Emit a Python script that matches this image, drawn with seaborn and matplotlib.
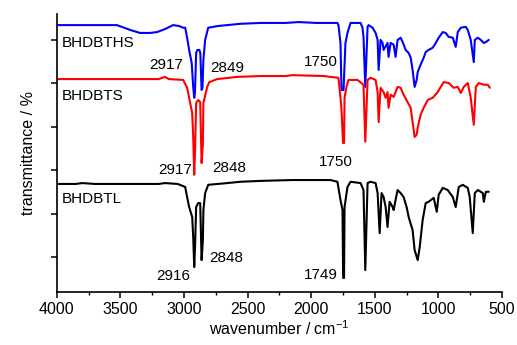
import numpy as np
import pandas as pd
import matplotlib
matplotlib.use("Agg")
import matplotlib.pyplot as plt
from matplotlib.ticker import MultipleLocator
import seaborn as sns

# -----------------------
# spectra (wavenumber / cm-1, stacked transmittance, a.u.)
# -----------------------
bhdbths_wn = [4000, 3527, 3425, 3346, 3267, 3212, 3149, 3086, 3040, 3007, 2991, 2976, 2960,
              2940, 2928, 2920, 2914, 2905, 2895, 2880, 2872, 2862, 2855, 2848, 2834, 2810,
              2731, 2558, 2400, 2200, 2100, 1960, 1849, 1794, 1786, 1770, 1762, 1746, 1731,
              1715, 1691, 1612, 1597, 1589, 1575, 1557, 1549, 1518, 1494, 1478, 1470, 1455,
              1439, 1431, 1400, 1392, 1376, 1352, 1337, 1321, 1297, 1281, 1258, 1234, 1218,
              1203, 1187, 1171, 1163, 1140, 1116, 1100, 1077, 1045, 1021, 998, 966, 943, 919,
              887, 864, 848, 824, 785, 769, 746, 722, 714, 690, 667, 643, 627, 604]
bhdbths_t = [5.34, 5.34, 5.23, 5.16, 5.16, 5.18, 5.25, 5.34, 5.32, 5.28, 5.28, 5.05, 4.77,
             4.47, 3.92, 3.67, 3.80, 4.70, 4.77, 4.77, 4.70, 3.85, 3.90, 4.54, 5.00, 5.28,
             5.32, 5.37, 5.39, 5.39, 5.41, 5.39, 5.39, 5.39, 5.34, 4.93, 3.85, 3.85, 4.93,
             5.16, 5.39, 5.39, 5.28, 5.07, 3.92, 5.30, 5.34, 5.28, 5.16, 5.00, 4.31, 5.00,
             4.93, 4.77, 4.93, 4.61, 4.93, 4.89, 4.61, 5.00, 5.05, 4.95, 4.77, 4.70, 4.59,
             4.31, 3.92, 4.08, 4.26, 4.43, 4.59, 4.72, 4.77, 4.82, 4.93, 5.05, 5.18, 5.16, 5.07,
             5.05, 4.84, 5.18, 5.28, 5.30, 5.23, 5.00, 4.49, 5.00, 5.05, 5.00, 4.93, 4.95, 5.00]

bhdbts_wn = [4000, 3500, 3200, 3150, 3120, 3007, 2976, 2960, 2936, 2928, 2920, 2913, 2905,
             2889, 2873, 2862, 2852, 2848, 2818, 2802, 2739, 2582, 2400, 2200, 2150, 1900,
             1849, 1786, 1770, 1762, 1750, 1742, 1738, 1723, 1707, 1636, 1589, 1575, 1557,
             1534, 1494, 1478, 1470, 1455, 1431, 1415, 1400, 1392, 1376, 1352, 1337, 1321,
             1297, 1274, 1242, 1218, 1203, 1187, 1171, 1163, 1140, 1116, 1084, 1045, 1006,
             982, 958, 919, 880, 848, 824, 801, 769, 746, 722, 706, 682, 643, 612, 596]
bhdbts_t = [4.10, 4.10, 4.10, 4.15, 4.10, 4.08, 3.90, 3.67, 3.32, 2.77, 1.90, 2.50, 3.55,
            3.62, 3.57, 2.17, 2.60, 3.55, 3.92, 4.03, 4.10, 4.15, 4.17, 4.17, 4.19, 4.17,
            4.15, 4.13, 3.67, 3.40, 2.63, 2.63, 3.67, 3.92, 4.08, 4.08, 3.97, 2.66, 4.08,
            4.13, 4.08, 3.80, 3.11, 3.90, 3.80, 3.67, 3.80, 3.44, 3.74, 3.69, 3.80, 3.92,
            3.90, 3.74, 3.57, 3.44, 3.11, 2.77, 2.82, 2.98, 3.28, 3.44, 3.62, 3.67, 3.80,
            3.92, 4.03, 4.01, 3.90, 3.92, 3.78, 3.92, 4.01, 3.67, 3.05, 3.92, 4.01, 3.97, 3.97, 3.90]

bhdbtl_wn = [4000, 3850, 3800, 3700, 3200, 3150, 3050, 2991, 2976, 2960, 2936, 2928, 2920,
             2913, 2905, 2889, 2873, 2862, 2852, 2848, 2834, 2810, 2660, 2558, 2400, 2150,
             1849, 1794, 1770, 1754, 1749, 1742, 1738, 1715, 1691, 1612, 1589, 1575, 1557,
             1534, 1494, 1478, 1462, 1447, 1431, 1415, 1400, 1384, 1360, 1352, 1337, 1321,
             1297, 1274, 1250, 1234, 1203, 1187, 1163, 1147, 1124, 1100, 1077, 1037, 1013,
             998, 966, 927, 887, 864, 840, 809, 769, 754, 730, 714, 690, 651, 643, 627, 604]
bhdbtl_t = [1.69, 1.69, 1.71, 1.69, 1.69, 1.71, 1.69, 1.62, 1.39, 1.16, 0.93, 0.47, -0.22,
            0.30, 1.16, 1.25, 1.25, -0.06, 0.40, 1.09, 1.48, 1.67, 1.71, 1.74, 1.76, 1.78,
            1.78, 1.74, 1.32, 1.09, -0.47, -0.47, 1.16, 1.62, 1.74, 1.71, 1.55, -0.29, 1.71,
            1.74, 1.71, 1.48, 0.56, 1.48, 1.39, 1.16, 0.70, 1.28, 1.16, 1.09, 1.32, 1.55,
            1.48, 1.39, 1.16, 0.93, 0.63, 0.17, -0.06, 0.24, 0.86, 1.25, 1.28, 1.37, 1.05,
            1.44, 1.60, 1.55, 1.39, 1.16, 1.62, 1.67, 1.60, 1.39, 0.56, 1.48, 1.55, 1.48, 1.28, 1.51, 1.51]

sample_names = ["BHDBTHS", "BHDBTS", "BHDBTL"]
sample_colors = ["#0000ff", "#ff0000", "#000000"]

# peak labels: (text, wavenumber, y, ha)
peak_labels = [("2917", 3010, 4.43, "right"), ("2849", 2795, 4.36, "left"),
               ("1750", 1795, 4.49, "right"),
               ("2917", 2938, 2.01, "right"), ("2848", 2780, 2.06, "left"),
               ("1750", 1810, 2.20, "center"),
               ("2916", 2952, -0.43, "right"), ("2848", 2802, -0.01, "left"),
               ("1749", 1794, -0.40, "right")]
name_y = [4.93, 3.71, 1.34]

sns.set_style("ticks")
plt.rcParams["font.family"] = ["Liberation Sans", "DejaVu Sans"]
plt.rcParams["mathtext.default"] = "regular"
for key in ["text.color", "axes.labelcolor", "xtick.color", "ytick.color", "axes.edgecolor"]:
    plt.rcParams[key] = "black"

frames = []
for name, wn, t in zip(sample_names, [bhdbths_wn, bhdbts_wn, bhdbtl_wn],
                       [bhdbths_t, bhdbts_t, bhdbtl_t]):
    frames.append(pd.DataFrame({"wn": wn, "t": t, "sample": name}))
df = pd.concat(frames, ignore_index=True)

fig = plt.figure(figsize=(5.17, 3.45), dpi=100)
ax = fig.add_axes([0.110, 0.154, 0.861, 0.806])

sns.lineplot(data=df, x="wn", y="t", hue="sample", hue_order=sample_names,
             palette=sample_colors, estimator=None, linewidth=1.5,
             legend=False, ax=ax)

ax.set_xlim(4000, 500)
ax.set_ylim(-0.79, 5.60)
ax.xaxis.set_major_locator(MultipleLocator(500))
ax.xaxis.set_minor_locator(MultipleLocator(250))
ax.yaxis.set_major_locator(MultipleLocator(1))
ax.set_yticklabels([])
ax.tick_params(axis="both", which="major", direction="out", length=4, width=1.1,
               labelsize=11.5, pad=3)
ax.tick_params(axis="x", which="minor", direction="out", length=2.5, width=1.0)
for s in ["left", "bottom"]:
    ax.spines[s].set_linewidth(1.2)
sns.despine(ax=ax)

ax.set_xlabel("wavenumber / cm$^{-1}$", fontsize=11.5, labelpad=2)
ax.set_ylabel("transmittance / %", fontsize=11.5, labelpad=8)

for name, y in zip(sample_names, name_y):
    ax.text(3960, y, name, fontsize=11, ha="left", va="center")
for txt, x, y, ha in peak_labels:
    ax.text(x, y, txt, fontsize=11, ha=ha, va="center")

fig.savefig("out.png", dpi=100)
